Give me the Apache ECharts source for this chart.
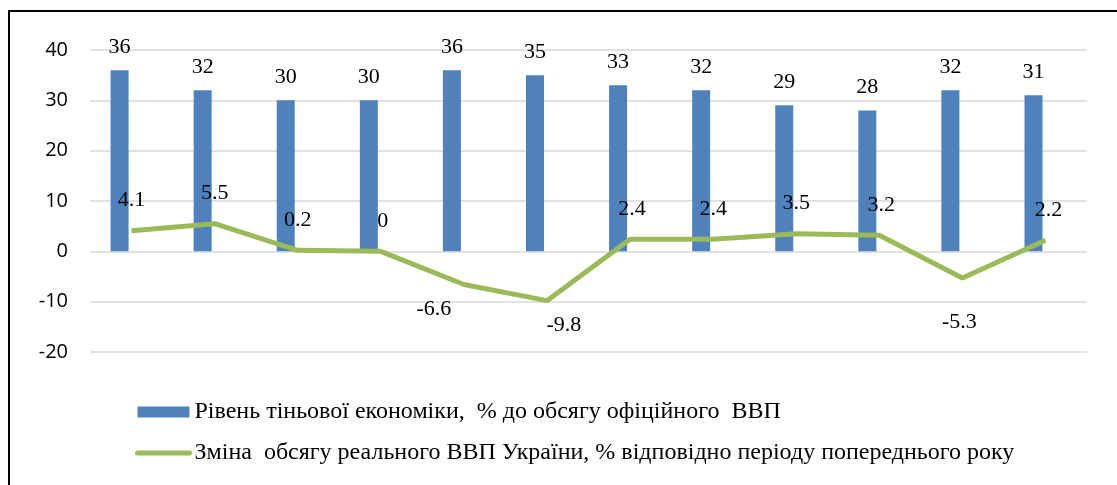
<!DOCTYPE html>
<html lang="uk">
<head>
    <meta charset="UTF-8">
    <title>Тіньова економіка та ВВП</title>
    <style>
        body{ margin:0; background:#fff; }
        .frame{
            position:absolute; left:8px; top:10px; width:1200px; height:600px;
            border-left:2px solid #000; border-top:2px solid #000;
        }
        #main{ position:absolute; left:0; top:0; width:1117px; height:485px; }
    </style>
    <script src="https://cdn.jsdelivr.net/npm/echarts@6/dist/echarts.min.js"></script>
</head>
<body>
<div class="frame"></div>
<div id="main"></div>
<script type="text/javascript">
    // дані
    var categories = ['1','2','3','4','5','6','7','8','9','10','11','12'];
    var shadowEconomy = [36, 32, 30, 30, 36, 35, 33, 32, 29, 28, 32, 31];
    var gdpChange = [4.1, 5.5, 0.2, 0, -6.6, -9.8, 2.4, 2.4, 3.5, 3.2, -5.3, 2.2];
    var yTicks = [-20, -10, 0, 10, 20, 30, 40];
    var barName = 'Рівень тіньової економіки,  % до обсягу офіційного  ВВП';
    var lineName = 'Зміна  обсягу реального ВВП України, % відповідно періоду попереднього року';

    // зсув підписів лінії (як у вихідному рисунку)
    var lineLabelNudge = [[0,0],[0,0],[0,0],[2,0],[-30,0],[17,0],[2,0],[0,0],[0,0],[2,0],[-3,19],[3,0]];

    var serif = '"Liberation Serif", "Times New Roman", serif';
    var lineData = gdpChange.map(function (v, i) {
        return {
            value: v,
            label: {
                position: v < 0 ? 'bottom' : 'top',
                distance: v < 0 ? 14 : 19,
                offset: lineLabelNudge[i]
            }
        };
    });

    var myChart = echarts.init(document.getElementById('main'));
    var option = {
        animation: false,
        grid: { left: 90, right: 30, top: 50, bottom: 133 },
        legend: {
            orient: 'vertical',
            left: 130,
            top: 395,
            itemWidth: 52,
            itemHeight: 11,
            itemGap: 17,
            textStyle: { fontFamily: serif, fontSize: 24, color: '#000' },
            data: [
                { name: barName, icon: 'rect' },
                { name: lineName, itemStyle: { opacity: 0 }, lineStyle: { width: 5, cap: 'round' } }
            ]
        },
        xAxis: {
            type: 'category',
            data: categories,
            axisLine: { show: false },
            axisTick: { show: false },
            axisLabel: { show: false }
        },
        yAxis: {
            type: 'value',
            min: yTicks[0],
            max: yTicks[yTicks.length - 1],
            interval: 10,
            axisLine: { show: false },
            axisTick: { show: false },
            axisLabel: { fontFamily: 'Open Sans', fontSize: 20, color: '#000', margin: 22 },
            splitLine: { lineStyle: { color: '#d9d9d9', width: 1.5 } }
        },
        series: [
            {
                name: barName,
                type: 'bar',
                data: shadowEconomy,
                barWidth: 18,
                barGap: '33%',
                itemStyle: { color: '#4f81bd' },
                label: {
                    show: true, position: 'top', distance: 12,
                    fontFamily: serif, fontSize: 22, color: '#000'
                }
            },
            {
                name: 'пусто',
                type: 'bar',
                data: categories.map(function () { return '-'; }),
                barWidth: 18
            },
            {
                name: lineName,
                type: 'line',
                data: lineData,
                symbol: 'circle',
                symbolSize: 0.1,
                itemStyle: { color: '#9bbb59' },
                lineStyle: { color: '#9bbb59', width: 5 },
                label: {
                    show: true,
                    fontFamily: serif, fontSize: 22, color: '#000'
                },
                z: 3
            }
        ]
    };
    myChart.setOption(option);
</script>
</body>
</html>
